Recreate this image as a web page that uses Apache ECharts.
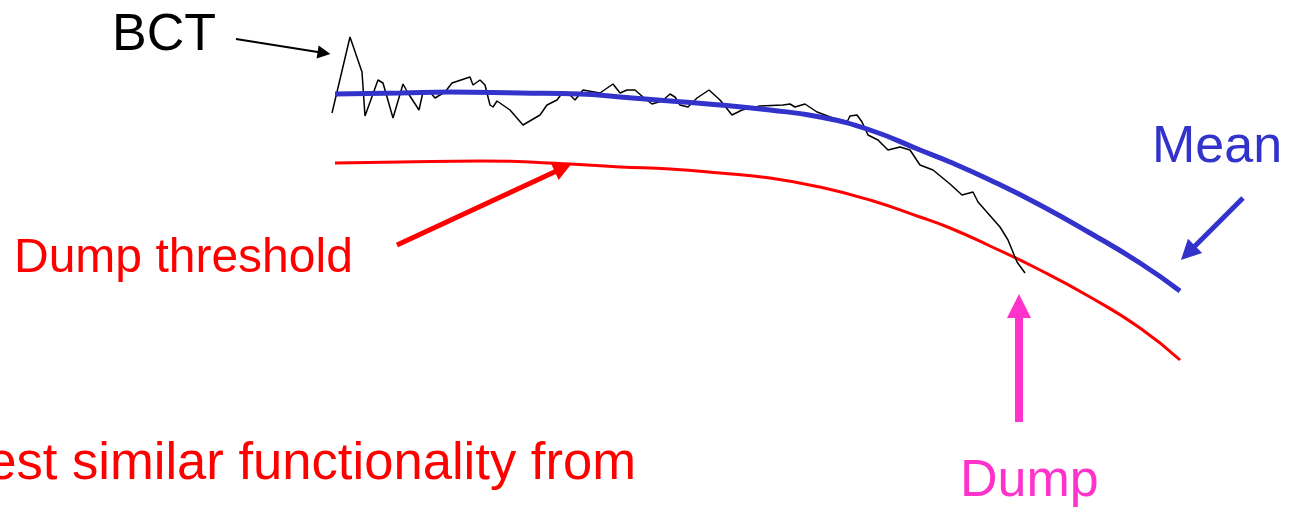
<!DOCTYPE html>
<html>
<head>
<meta charset="utf-8">
<script src="https://cdn.jsdelivr.net/npm/echarts@6/dist/echarts.min.js"></script>
<style>
  html, body { margin: 0; padding: 0; background: #fff; }
  #chart { width: 1297px; height: 508px; }
</style>
</head>
<body>
<div id="chart"></div>
<script>
// sketch coordinates (x along beam time, y downwards)
const meanX = [335, 400, 450, 520, 580, 620, 670, 720, 770, 820, 870, 920, 950, 990, 1040, 1090, 1140, 1180];
const meanY = [94, 93, 92, 93, 94, 97, 101, 105, 110, 117, 130, 150, 162, 180, 205, 233, 263, 291];

const thresholdX = [335, 400, 480, 570, 620, 670, 720, 770, 820, 870, 920, 950, 990, 1040, 1090, 1140, 1180];
const thresholdY = [163, 162, 161, 164, 167, 169, 173, 178, 187, 200, 217, 228, 246, 270, 297, 328, 360];

const bctX = [332, 350, 362, 365, 378, 383, 393, 403, 408, 419, 423, 430, 435, 445, 452, 470, 473, 480, 485, 490, 493, 497, 510, 523, 540, 547, 557, 563, 570, 575, 583,
  600, 613, 620, 627, 635, 643, 652, 662, 670, 675, 680, 688, 697, 709, 720, 732, 742, 760, 783, 790, 795, 805, 817, 833, 847, 850, 857, 862, 868, 878, 888, 900, 910, 920, 933, 950,
  962, 973, 978, 1000, 1008, 1017, 1025];
const bctY = [113, 37, 72, 116, 80, 83, 118, 84, 93, 110, 92, 92, 98, 92, 83, 77, 85, 80, 85, 105, 107, 101, 110, 125, 115, 105, 100, 92, 95, 100, 90,
  93, 84, 93, 90, 90, 97, 104, 101, 94, 97, 105, 107, 98, 90, 100, 115, 110, 106, 105, 104, 107, 104, 112, 118, 122, 116, 115, 122, 135, 140, 150, 147, 150, 165, 170, 184,
  195, 192, 202, 227, 240, 262, 273];

// arrows: [x0, y0, x1, y1]
const bctArrow = [236, 39, 324, 53];
const thresholdArrow = [397, 245, 563, 168];
const meanArrow = [1243, 198, 1188, 253];
const dumpArrow = [1019, 422, 1019, 306];

const labels = ['BCT', 'Mean', 'Dump threshold', 'Dump', 'Request similar functionality from'];

const zip = (xs, ys) => xs.map((x, i) => [x, ys[i]]);
const font = 'Liberation Sans, Arial, sans-serif';

const chart = echarts.init(document.getElementById('chart'));

function arrow(a, color, width, size) {
  return {
    type: 'lines',
    coordinateSystem: 'cartesian2d',
    polyline: false,
    silent: true,
    symbol: ['none', 'triangle'],
    symbolSize: size,
    lineStyle: { color: color, width: width, opacity: 1, curveness: 0 },
    data: [{ coords: [[a[0], a[1]], [a[2], a[3]]] }],
    z: 5
  };
}

const option = {
  animation: false,
  backgroundColor: '#fff',
  grid: { left: 0, right: 0, top: 0, bottom: 0 },
  xAxis: { type: 'value', min: 0, max: 1297, show: false },
  yAxis: { type: 'value', min: 0, max: 508, inverse: true, show: false },
  series: [
    {
      name: 'BCT',
      type: 'line',
      data: zip(bctX, bctY),
      showSymbol: false,
      smooth: false,
      lineStyle: { color: '#000', width: 1.5 },
      z: 3
    },
    {
      name: 'Mean',
      type: 'line',
      data: zip(meanX, meanY),
      showSymbol: false,
      smooth: 0.5,
      lineStyle: { color: '#3333cc', width: 5, cap: 'butt' },
      z: 4
    },
    {
      name: 'Dump threshold',
      type: 'line',
      data: zip(thresholdX, thresholdY),
      showSymbol: false,
      smooth: 0.5,
      lineStyle: { color: '#ff0000', width: 3 },
      z: 2
    },
    arrow(bctArrow, '#000', 2, [11, 13]),
    arrow(thresholdArrow, '#ff0000', 5, [18, 18]),
    arrow(meanArrow, '#3333cc', 5, [19, 20]),
    arrow(dumpArrow, '#ff33cc', 8, [24, 24])
  ],
  graphic: [
    { type: 'text', left: 112, top: 10, style: { text: labels[0], font: '52px ' + font, fill: '#000' } },
    { type: 'text', left: 1152, top: 122, style: { text: labels[1], font: '52px ' + font, fill: '#3333cc' } },
    { type: 'text', left: 14, top: 235, style: { text: labels[2], font: '48px ' + font, fill: '#ff0000' } },
    { type: 'text', left: 960, top: 456, style: { text: labels[3], font: '52px ' + font, fill: '#ff33cc' } },
    { type: 'text', right: 661, top: 438, style: { text: labels[4], font: '52.6px ' + font, fill: '#ff0000' } }
  ]
};

chart.setOption(option);
</script>
</body>
</html>
